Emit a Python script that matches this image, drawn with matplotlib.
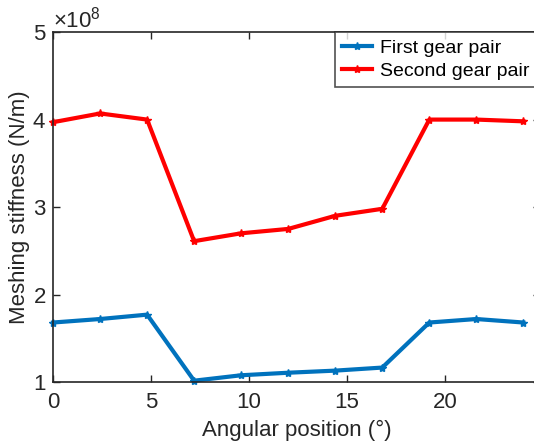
import numpy as np
import matplotlib
matplotlib.use("Agg")
import matplotlib.pyplot as plt
from matplotlib.ticker import ScalarFormatter

plt.rcParams['font.family'] = ['Liberation Sans', 'DejaVu Sans']
plt.rcParams['mathtext.fontset'] = 'custom'
plt.rcParams['mathtext.rm'] = 'Liberation Sans'
plt.rcParams['mathtext.it'] = 'Liberation Sans'

angle = [0, 2.4, 4.8, 7.2, 9.6, 12.0, 14.4, 16.8, 19.2, 21.6, 24.0]
first_pair = [1.68, 1.72, 1.77, 1.015, 1.077, 1.106, 1.13, 1.165, 1.68, 1.72, 1.68]
second_pair = [3.97, 4.07, 4.00, 2.61, 2.70, 2.75, 2.90, 2.98, 4.00, 4.00, 3.98]

first = np.array(first_pair) * 1e8
second = np.array(second_pair) * 1e8

fig = plt.figure(figsize=(5.34, 4.46), dpi=100)
ax = fig.add_axes([0.0993, 0.1435, 0.912, 0.7845])

ax.plot(angle, first, color='#0072BD', lw=3, marker='*', ms=6, label='First gear pair', clip_on=False)
ax.plot(angle, second, color='#FF0000', lw=3, marker='*', ms=6, label='Second gear pair', clip_on=False)

ax.set_xlim(0, 24.85)
ax.set_ylim(1e8, 5e8)
ax.set_xticks([0, 5, 10, 15, 20])
ax.set_yticks([1e8, 2e8, 3e8, 4e8, 5e8])

fmt = ScalarFormatter(useMathText=True)
fmt.set_powerlimits((0, 0))
ax.yaxis.set_major_formatter(fmt)
ax.yaxis.get_offset_text().set_fontsize(16)
ax.yaxis.get_offset_text().set_color('#262626')

ax.tick_params(direction='in', top=True, right=True, labelsize=16, length=5,
               width=1, colors='#262626', labelcolor='#262626', pad=5)
ax.tick_params(axis='x', pad=7)
for s in ax.spines.values():
    s.set_linewidth(1.2)
    s.set_color('#262626')

ax.set_xlabel('Angular position (°)', fontsize=16, color='#262626', labelpad=5)
ax.set_ylabel('Meshing stiffness (N/m)', fontsize=16, color='#262626', labelpad=2)

# legend pinned to the top edge, running off the right side
leg = ax.legend(loc='upper left', bbox_to_anchor=(0.627, 0.928), bbox_transform=fig.transFigure,
                fontsize=14, frameon=True, fancybox=False, borderaxespad=0,
                handlelength=1.55, handletextpad=0.4, borderpad=0.35, labelspacing=0.3)
leg.get_frame().set_edgecolor('#262626')
leg.get_frame().set_linewidth(1.2)

fig.savefig('out.png', dpi=100)
